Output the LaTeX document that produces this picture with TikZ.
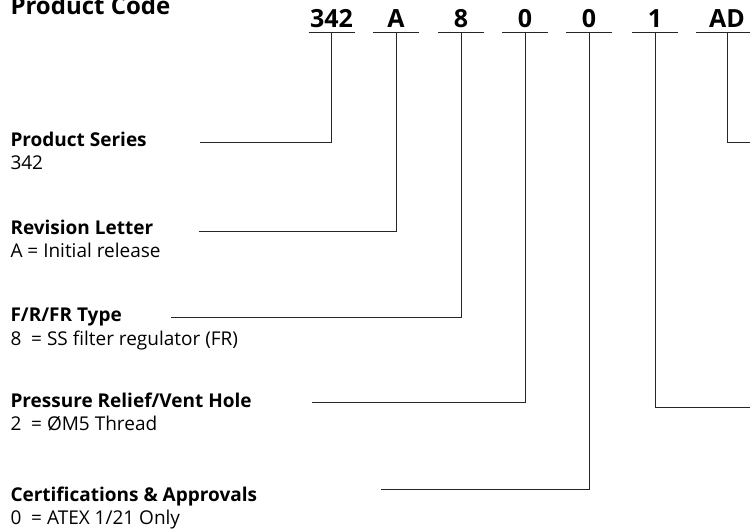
\documentclass[tikz,border=0pt]{standalone}
\usepackage{fontspec}
\setmainfont{Open Sans}
\begin{document}
\begin{tikzpicture}[x=1pt, y=-1pt, line width=1pt,
  codechar/.style={font=\bfseries\fontsize{25}{25}\selectfont, anchor=south,
    inner xsep=0pt, inner ysep=4pt, text depth=0pt},
  heading/.style={anchor=base west, inner sep=0pt, font=\bfseries\fontsize{19}{22}\selectfont},
  entry/.style={anchor=base west, inner sep=0pt, font=\fontsize{19}{22}\selectfont},
  lead/.style={draw=black!85}]
\useasboundingbox (0,0) rectangle (750,530);
% title, cut by the upper edge
\node[anchor=base west, inner sep=0pt, font=\bfseries\fontsize{24}{24}\selectfont] (title) at (10,14) {Product Code};
% code characters with their underlines
\foreach \cx/\cw/\ctext/\cname in {331.5/45/342/c1, 396/45/A/c2, 461/45/8/c3,
    525/45/0/c4, 589/45/0/c5, 655/45/1/c6, 727/62/AD/c7} {
  \node[codechar, minimum width=\cw pt] (\cname) at (\cx,32) {\ctext};
  \draw[lead] (\cname.south west) -- (\cname.south east);
}
% legend on the left: heading and value
\node[heading] (h1) at (10,146) {Product Series};
\node[entry]   (v1) at (10,169) {342};
\node[heading] (h2) at (10,234) {Revision Letter};
\node[entry]   (v2) at (10,257) {A = Initial release};
\node[heading] (h3) at (10,321) {F/R/FR Type};
\node[entry]   (v3) at (10,345) {8~ = SS filter regulator (FR)};
\node[heading] (h4) at (10,407) {Pressure Relief/Vent Hole};
\node[entry]   (v4) at (10,430) {2~ = ØM5 Thread};
\node[heading] (h5) at (10,501) {Certifications \& Approvals};
\node[entry]   (v5) at (10,524) {0~ = ATEX 1/21 Only};
% free ends of the leader lines
\coordinate (s1) at (200,142);
\coordinate (s2) at (199,231);
\coordinate (s3) at (171,317);
\coordinate (s4) at (312,402);
\coordinate (s5) at (381,489);
\coordinate (s6) at (750,407);  % runs off the right edge
\coordinate (s7) at (750,142);  % runs off the right edge
% leader lines, down from each code then across
\foreach \i in {1,...,7}
  \draw[lead] (c\i.south) |- (s\i);
\end{tikzpicture}
\end{document}
